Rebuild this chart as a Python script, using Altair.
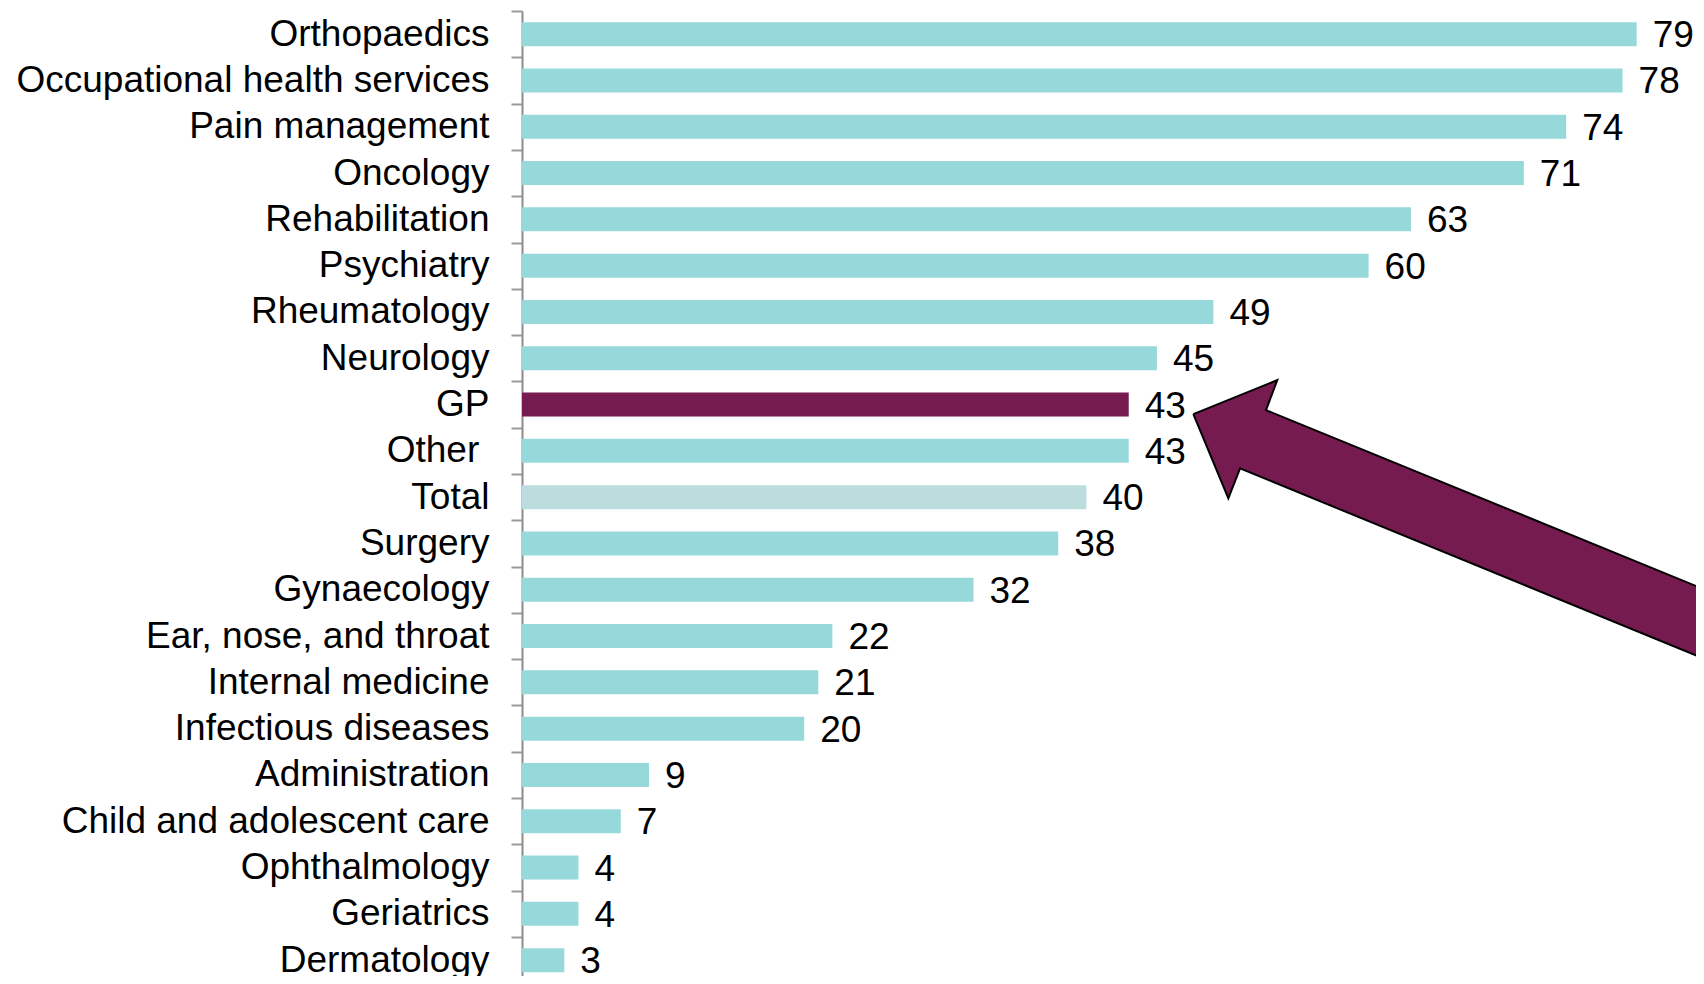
import altair as alt
import pandas as pd

categories = [
    "Orthopaedics", "Occupational health services", "Pain management", "Oncology",
    "Rehabilitation", "Psychiatry", "Rheumatology", "Neurology", "GP", "Other\u00a0\u200b",
    "Total", "Surgery", "Gynaecology", "Ear, nose, and throat", "Internal medicine",
    "Infectious diseases", "Administration", "Child and adolescent care",
    "Ophthalmology", "Geriatrics", "Dermatology",
]
values = [79, 78, 74, 71, 63, 60, 49, 45, 43, 43, 40, 38, 32, 22, 21, 20, 9, 7, 4, 4, 3]

# arrow annotation outline in data units (x: value, y: row index from top)
arrow_x = [47.58, 53.53, 52.73, 90.57, 90.57, 50.89, 50.06, 47.58]
arrow_y = [8.706, 7.972, 8.620, 13.337, 14.838, 9.879, 10.527, 8.706]

TEAL = "#97D9DB"
PURPLE = "#761B50"
TOTAL = "#BCDDDD"
FONT = "Liberation Sans"

df = pd.DataFrame({"category": categories, "value": values})
arrow_df = pd.DataFrame({"ax": arrow_x, "ay": arrow_y, "i": list(range(len(arrow_x)))})

STEP = 46.3
N = len(categories)
FULL_H = STEP * N          # extent of all bands (runs past the visible bottom)
PAD_L, PAD_T = 514, 3
W = 1688 - PAD_L           # plot width
H = 968 - PAD_T            # visible plot height
XMAX = W / 14.11

xscale = alt.Scale(domain=[0, XMAX], nice=False, zero=True)
yscale = alt.Scale(domain=categories, paddingInner=0, paddingOuter=0, range=[0, FULL_H])

color = (
    alt.when(alt.datum.category == "GP").then(alt.value(PURPLE))
    .when(alt.datum.category == "Total").then(alt.value(TOTAL))
    .otherwise(alt.value(TEAL))
)

bars = alt.Chart(df).mark_bar(size=24).encode(
    x=alt.X("value:Q", scale=xscale, axis=None),
    y=alt.Y("category:N", scale=yscale, sort=categories, title=None,
            axis=alt.Axis(tickBand="extent", domainColor="#8c8c8c", domainWidth=2,
                          tickColor="#9a9a9a", tickWidth=2, tickSize=11,
                          labelFont=FONT, labelFontSize=37, labelColor="#000000",
                          labelPadding=22, labelLimit=0, grid=False)),
    color=color,
)

labels = alt.Chart(df).mark_text(align="left", baseline="middle", dx=16, dy=2,
                                 font=FONT, fontSize=37, color="#000000").encode(
    x=alt.X("value:Q", scale=xscale, axis=None),
    y=alt.Y("category:N", scale=yscale, sort=categories),
    text=alt.Text("value:Q"),
)

arrow = alt.Chart(arrow_df).mark_line(fill=PURPLE, stroke="#000000", strokeWidth=2,
                                      clip=True, strokeJoin="miter").encode(
    x=alt.X("ax:Q", scale=xscale, axis=None),
    y=alt.Y("ay:Q", scale=alt.Scale(domain=[0, N], range=[0, FULL_H], nice=False, zero=False),
            axis=None),
    order=alt.Order("i:Q"),
)

chart = (
    alt.layer(alt.layer(bars, labels), arrow)
    .resolve_scale(y="independent")
    .properties(width=W, height=H, padding={"left": PAD_L, "top": PAD_T, "right": 0, "bottom": 0},
                autosize=alt.AutoSizeParams(type="none"), background="#ffffff")
    .configure_view(strokeWidth=0, strokeOpacity=0)
)

chart.save("out.html", embed_options={"renderer": "svg", "actions": False})
